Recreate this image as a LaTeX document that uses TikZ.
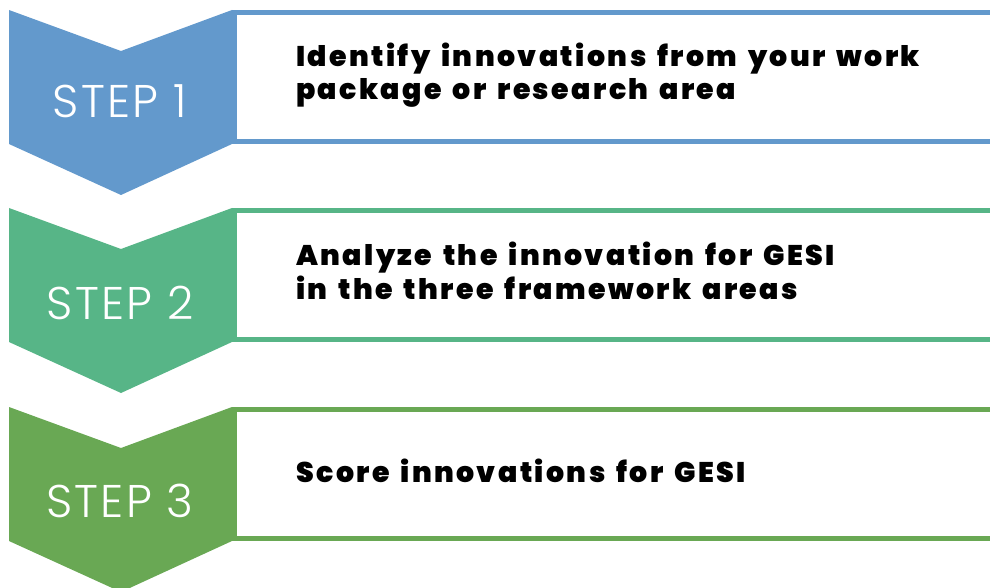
\documentclass[tikz,border=0pt]{standalone}
\usepackage{fontspec}
\newfontfamily\steplight{Poppins Light}[LetterSpace=5]
\newfontfamily\stepblack{Poppins Black}[LetterSpace=8.5,WordSpace=1.5]
\definecolor{cblue}{HTML}{6399CC}
\definecolor{cgreenA}{HTML}{57B587}
\definecolor{cgreenB}{HTML}{69A854}
\begin{document}
\begin{tikzpicture}[x=1bp,y=-1bp,
  chev/.style={fill=#1,draw=none},
  frame/.style={draw=#1,line width=5bp,fill=white},
  steplabel/.style={text=white,font=\steplight\fontsize{46}{46}\selectfont,anchor=base,inner sep=0pt},
  desc/.style={text=black,font=\stepblack\fontsize{28.5}{32.5}\selectfont,anchor=base west,inner sep=0pt,align=left}]
\useasboundingbox (0,0) rectangle (990,588);
\clip (0,0) rectangle (990,588);
\foreach \t/\c/\n in {10/cblue/1,208/cgreenA/2,407/cgreenB/3}{
  \fill[chev=\c] (9,\t) -- (121,\t+41) -- (232,\t) -- (232,\t+134) -- (121,\t+185) -- (9,\t+134) -- cycle;
  \draw[frame=\c] (1000,\t+2.5) -- (234.5,\t+2.5) -- (234.5,\t+131.5) -- (1000,\t+131.5);
}
\node[steplabel] (s1) at (120,118) {STEP 1};
\node[steplabel] (s2) at (120,319) {STEP 2};
\node[steplabel] (s3) at (120,517) {STEP 3};
\node[desc] (d1a) at (296,67) {Identify innovations from your work};
\node[desc] (d1b) at (296,100) {package or research area};
\node[desc] (d2a) at (296,266) {Analyze the innovation for GESI};
\node[desc] (d2b) at (296,299) {in the three framework areas};
\node[desc] (d3) at (296,482) {Score innovations for GESI};
\end{tikzpicture}
\end{document}
